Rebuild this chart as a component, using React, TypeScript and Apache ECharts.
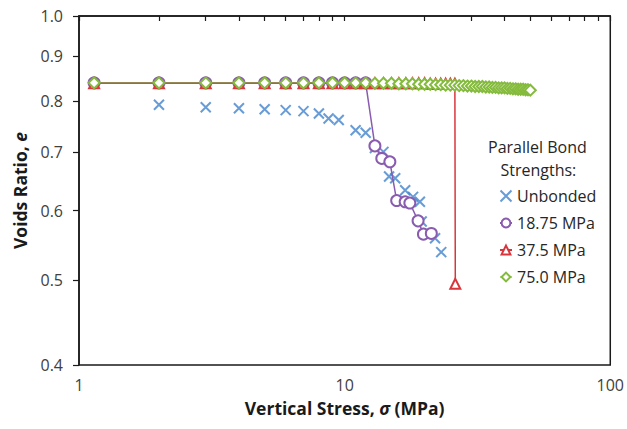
import React, { useEffect, useRef } from "react";
import * as echarts from "echarts";

// ---- data ----
const unbondedStress = [2, 3, 4, 5, 6, 7, 8, 8.7, 9.5, 11, 12, 13, 14, 14.7, 15.5, 16.9, 18.1, 19.2, 19.5, 20.6, 21.9, 23.1];
const unbondedVoids = [0.792, 0.787, 0.785, 0.783, 0.781, 0.779, 0.774, 0.764, 0.761, 0.741, 0.736, 0.707, 0.7, 0.656, 0.653, 0.633, 0.622, 0.614, 0.583, 0.565, 0.558, 0.538];

const bond1875Stress = [1.14, 2, 3, 4, 5, 6, 7, 8, 9, 10, 11, 12, 13.0, 13.8, 14.8, 15.7, 16.9, 17.6, 18.9, 19.8, 21.2];
const bond1875Voids = [0.839, 0.839, 0.839, 0.839, 0.839, 0.839, 0.839, 0.839, 0.839, 0.839, 0.839, 0.839, 0.711, 0.688, 0.682, 0.616, 0.614, 0.612, 0.584, 0.564, 0.565];

const bond375Stress = [1.14, 2, 3, 4, 5, 6, 7, 8, 9, 10, 11, 12, 13, 14, 15, 16, 17, 18, 19, 20, 21, 22, 23, 24, 25, 26, 26.1];
const bond375Voids = [0.838, 0.838, 0.838, 0.838, 0.838, 0.838, 0.838, 0.838, 0.838, 0.838, 0.838, 0.838, 0.838, 0.838, 0.838, 0.838, 0.838, 0.838, 0.838, 0.838, 0.837, 0.837, 0.837, 0.837, 0.837, 0.837, 0.495];

const bond75Stress = [1.14, 2, 3, 4, 5, 6, 7, 8, 9, 10, 11, 12, 13, 14, 15, 16, 17, 18, 19, 20, 21, 22, 23, 24, 25, 26, 27, 28, 29, 30, 31, 32, 33, 34, 35, 36, 37, 38, 39, 40, 41, 42, 43, 44, 45, 46, 47, 48, 49, 50];
const bond75Voids = [0.839, 0.839, 0.839, 0.839, 0.839, 0.839, 0.839, 0.839, 0.839, 0.839, 0.839, 0.839, 0.838, 0.838, 0.838, 0.837, 0.837, 0.837, 0.836, 0.836, 0.836, 0.835, 0.835, 0.834, 0.834, 0.834, 0.833, 0.833, 0.832, 0.832, 0.831, 0.831, 0.831, 0.83, 0.83, 0.829, 0.829, 0.828, 0.828, 0.828, 0.827, 0.827, 0.826, 0.826, 0.825, 0.825, 0.825, 0.824, 0.824, 0.823];

const seriesNames = ["Unbonded", "18.75 MPa", "37.5 MPa", "75.0 MPa"];
const yTickValues = [0.4, 0.5, 0.6, 0.7, 0.8, 0.9, 1.0];
const xLabelValues = [1, 10, 100];
const xTickValues = [1, 2, 3, 4, 5, 6, 7, 8, 9, 10, 20, 30, 40, 50, 60, 70, 80, 90, 100];

const lg = (v: number) => Math.log10(v);
const pairs = (xs: number[], ys: number[]) => xs.map((x, i) => [lg(x), lg(ys[i])]);

const BLUE = "#4283cc";
const PURPLE = "#8a5cb0";
const RED = "#d8363c";
const GREEN = "#84bb3c";
const FONT = "Open Sans";
const CROSS = "path://M0 0L10 10M10 0L0 10";

export default function App() {
  const ref = useRef<HTMLDivElement>(null);
  useEffect(() => {
    if (!ref.current) return;
    const chart = echarts.init(ref.current, null, { renderer: "svg" });
    const nameRich = {
      b: { fontFamily: FONT, fontSize: 17.5, fontWeight: "bold", color: "#1a1a1a" },
      i: { fontFamily: FONT, fontSize: 17.5, fontWeight: "bold", fontStyle: "italic", color: "#1a1a1a" },
    };
    chart.setOption({
      animation: false,
      backgroundColor: "#ffffff",
      grid: {
        left: 79,
        top: 16,
        right: 14,
        bottom: 64,
        show: true,
        borderColor: "#1a1a1a",
        borderWidth: 1.5,
        backgroundColor: "transparent",
      },
      graphic: [
        {
          type: "text",
          left: 488,
          top: 135,
          style: {
            text: "Parallel Bond\n   Strengths:",
            font: `16px "${FONT}"`,
            fill: "#262626",
            lineHeight: 23,
          },
        },
      ],
      legend: {
        orient: "vertical",
        left: 494,
        top: 181,
        itemWidth: 12,
        itemHeight: 11,
        itemGap: 7,
        data: seriesNames,
        textStyle: { fontFamily: FONT, fontSize: 16, color: "#262626", lineHeight: 20 },
      },
      xAxis: {
        type: "value",
        min: 0,
        max: 2,
        name: "{b|Vertical Stress, }{i|σ}{b| (MPa)}",
        nameLocation: "middle",
        nameGap: 34,
        nameTextStyle: { rich: nameRich },
        axisLine: { lineStyle: { color: "#1a1a1a", width: 1.5 } },
        axisTick: {
          show: true,
          length: 5,
          customValues: xTickValues.map(lg),
          lineStyle: { color: "#1a1a1a", width: 1.2 },
        },
        axisLabel: {
          customValues: xLabelValues.map(lg),
          formatter: (v: number) => String(Math.round(Math.pow(10, v))),
          fontFamily: FONT,
          fontSize: 16,
          color: "#404040",
          margin: 12,
        },
        splitLine: { show: false },
      },
      yAxis: {
        type: "value",
        min: lg(0.4),
        max: 0,
        name: "{b|Voids Ratio, }{i|e}",
        nameLocation: "middle",
        nameGap: 50,
        nameTextStyle: { rich: nameRich },
        axisLine: { show: true, lineStyle: { color: "#1a1a1a", width: 1.5 } },
        axisTick: {
          show: true,
          length: 6,
          customValues: yTickValues.map(lg),
          lineStyle: { color: "#1a1a1a", width: 1.2 },
        },
        axisLabel: {
          customValues: yTickValues.map(lg),
          formatter: (v: number) => Math.pow(10, v).toFixed(1),
          fontFamily: FONT,
          fontSize: 16,
          color: "#404040",
          margin: 16,
        },
        splitLine: { show: false },
      },
      series: [
        {
          name: seriesNames[0],
          type: "scatter",
          data: pairs(unbondedStress, unbondedVoids),
          symbol: CROSS,
          symbolSize: 10,
          itemStyle: { color: BLUE, borderColor: BLUE, borderWidth: 2 },
          z: 2,
        },
        {
          name: seriesNames[1],
          type: "line",
          data: pairs(bond1875Stress, bond1875Voids),
          symbol: "emptyCircle",
          symbolSize: 11,
          lineStyle: { color: PURPLE, width: 1.5 },
          itemStyle: { color: PURPLE, borderColor: PURPLE, borderWidth: 1.8 },
          z: 3,
        },
        {
          name: seriesNames[2],
          type: "line",
          data: pairs(bond375Stress, bond375Voids),
          symbol: "emptyTriangle",
          symbolSize: 10,
          lineStyle: { color: RED, width: 1.5 },
          itemStyle: { color: RED, borderColor: RED, borderWidth: 1.8 },
          z: 4,
        },
        {
          name: seriesNames[3],
          type: "line",
          data: pairs(bond75Stress, bond75Voids),
          symbol: "emptyDiamond",
          symbolSize: 11,
          lineStyle: { color: GREEN, width: 1.5, opacity: 0.55 },
          itemStyle: { color: GREEN, borderColor: GREEN, borderWidth: 1.8 },
          z: 5,
        },
      ],
    });
    return () => chart.dispose();
  }, []);
  return (
    <div
      ref={ref}
      style={{ position: "fixed", left: 0, top: 0, width: 627, height: 429, background: "#fff" }}
    />
  );
}
